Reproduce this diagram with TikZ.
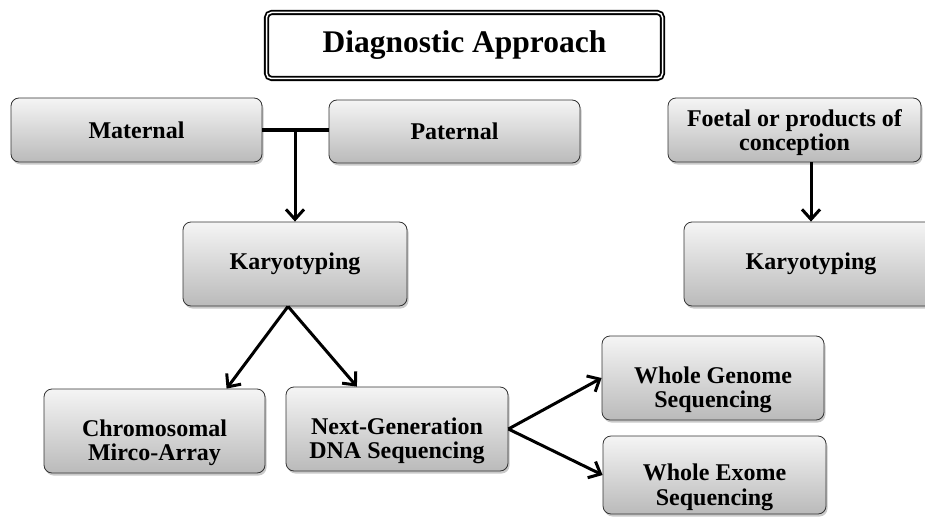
\documentclass[tikz,border=0pt]{standalone}
\usepackage{fontspec}
\setmainfont{Liberation Serif}
\usetikzlibrary{arrows.meta,shadows,calc}

% invisible strut that pushes two-line labels down a little
\newcommand{\padtop}[1]{\rule{0pt}{#1}}

\tikzset{
  headbox/.style={draw, double, line width=1.8pt, double distance=1.5pt,
    rounded corners=5pt, fill=white, inner sep=0pt,
    minimum width=396pt, minimum height=66pt,
    font=\fontsize{31.5}{34}\selectfont\bfseries},
  box/.style={draw=black!80, line width=0.8pt, rounded corners=8pt,
    top color=black!4, bottom color=black!27, align=center, inner sep=0pt,
    font=\fontsize{24}{24.5}\selectfont\bfseries,
    drop shadow={shadow xshift=1.5pt, shadow yshift=-2.5pt,
      opacity=0.3, fill=black!70}},
  link/.style={line width=3pt, -{Straight Barb[length=10pt,width=18pt]}},
}

\begin{document}
\begin{tikzpicture}[x=1pt, y=-1pt]

  \useasboundingbox (0,0) rectangle (925,516);
  \clip (0,0) rectangle (925,516);

  % Title
  \node [headbox] (diag) at (464.5,45.5) {Diagnostic Approach};

  % Parents
  \node [box, minimum width=251pt, minimum height=64pt] (maternal) at (136.5,130) {Maternal};
  \node [box, minimum width=251pt, minimum height=63pt] (paternal) at (454.5,131.5) {Paternal};
  \node [box, minimum width=224pt, minimum height=84pt] (kary1) at (295,264) {Karyotyping};

  % Foetal side
  \node [box, minimum width=253pt, minimum height=64pt] (foetal) at (794.5,130) {\padtop{22pt}Foetal or products of\\conception};
  \node [box, minimum width=254pt, minimum height=84pt] (kary2) at (811,264) {Karyotyping};

  % Follow-up tests
  \node [box, minimum width=221pt, minimum height=84pt] (chrom) at (154.5,431) {\padtop{40pt}Chromosomal\\Mirco-Array};
  \node [box, minimum width=222pt, minimum height=84pt] (ngs) at (397,429) {\padtop{40pt}Next-Generation\\DNA Sequencing};
  \node [box, minimum width=222pt, minimum height=84pt] (wgs) at (713,378) {\padtop{40pt}Whole Genome\\Sequencing};
  \node [box, minimum width=223pt, minimum height=78pt] (wes) at (714.5,475) {\padtop{41pt}Whole Exome\\Sequencing};

  % Connectors
  \draw [line width=3.2pt] (maternal.east) -- (maternal.east -| paternal.west);
  \draw [link] (maternal.east -| kary1.north) -- (kary1.north);
  \draw [link] (foetal.south -| kary2.north) -- (kary2.north);
  \draw [link] ([xshift=-7pt]kary1.south) -- ($(chrom.north)!0.65!(chrom.north east)$);
  \draw [link] ([xshift=-7pt]kary1.south) -- ($(ngs.north)!0.36!(ngs.north west)$);
  \draw [link] (ngs.east) -- (wgs.west);
  \draw [link] (ngs.east) -- (wes.west);

\end{tikzpicture}
\end{document}
